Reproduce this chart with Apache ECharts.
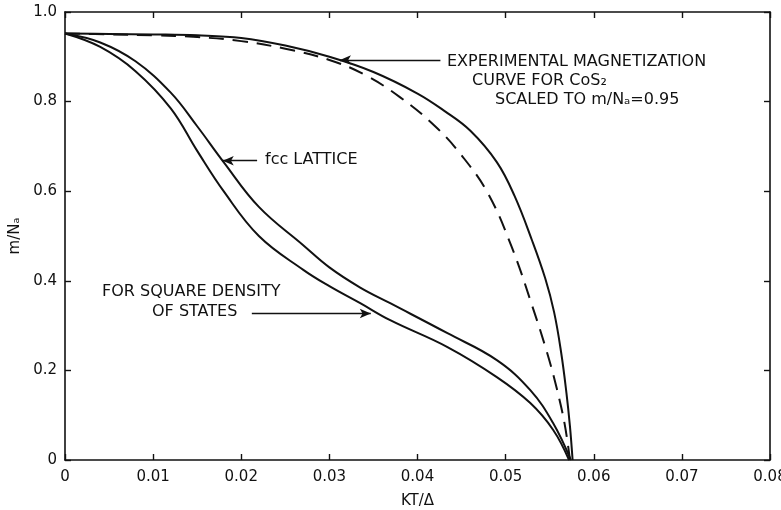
<!DOCTYPE html>
<html>
<head>
<meta charset="utf-8">
<script src="https://cdn.jsdelivr.net/npm/echarts@6/dist/echarts.min.js"></script>
<style>
  html, body { margin: 0; padding: 0; background: #fff; }
  #chart { width: 781px; height: 510px; }
</style>
</head>
<body>
<div id="chart"></div>
<script>
// values: [KT/Δ, m/Na]
const experimental = [
  [0, 0.952], [0.005, 0.951], [0.01, 0.95], [0.015, 0.948], [0.02, 0.942],
  [0.025, 0.925], [0.03, 0.9], [0.035, 0.866], [0.04, 0.818], [0.043, 0.78],
  [0.046, 0.735], [0.049, 0.665], [0.051, 0.59], [0.053, 0.49], [0.0545, 0.405],
  [0.0555, 0.33], [0.0563, 0.24], [0.0569, 0.15], [0.0573, 0.075], [0.0576, 0]
];
const scaledTheory = [
  [0, 0.952], [0.005, 0.95], [0.01, 0.948], [0.015, 0.944], [0.02, 0.935],
  [0.025, 0.918], [0.03, 0.893], [0.034, 0.86], [0.038, 0.81], [0.042, 0.745],
  [0.045, 0.68], [0.048, 0.595], [0.0507, 0.475], [0.053, 0.345], [0.0547, 0.24],
  [0.0558, 0.16], [0.0567, 0.08], [0.0573, 0]
];
const fccLattice = [
  [0, 0.952], [0.004, 0.932], [0.008, 0.89], [0.012, 0.82], [0.015, 0.745],
  [0.018, 0.665], [0.022, 0.565], [0.027, 0.48], [0.03, 0.43], [0.0335, 0.385],
  [0.0369, 0.35], [0.0434, 0.283], [0.049, 0.223], [0.0528, 0.156], [0.0554, 0.082],
  [0.0574, 0]
];
const squareDos = [
  [0, 0.952], [0.004, 0.922], [0.008, 0.868], [0.012, 0.785], [0.015, 0.69],
  [0.018, 0.6], [0.022, 0.5], [0.027, 0.425], [0.03, 0.388], [0.0335, 0.35],
  [0.0369, 0.312], [0.0434, 0.252], [0.049, 0.185], [0.0528, 0.127], [0.0554, 0.067],
  [0.0572, 0]
];
// annotation arrows: [from, to] in data units
const expArrow = [[0.0426, 0.893], [0.0312, 0.893]];
const fccArrow = [[0.0218, 0.668], [0.0179, 0.668]];
const dosArrow = [[0.0212, 0.327], [0.0347, 0.327]];

const font = "DejaVu Sans";
const ink = "#111";

function arrow(pts) {
  return {
    silent: true,
    symbol: ["none", "arrow"],
    symbolSize: [7, 11],
    label: { show: false },
    lineStyle: { color: ink, width: 1.3, type: "solid" },
    data: [[{ coord: pts[0] }, { coord: pts[1] }]],
  };
}

function curve(name, data, dashed, marks) {
  return {
    name: name,
    type: "line",
    data: data,
    smooth: 0.4,
    showSymbol: false,
    silent: true,
    lineStyle: { color: ink, width: 2, type: dashed ? [15, 9] : "solid" },
    markLine: marks,
  };
}

const chart = echarts.init(document.getElementById("chart"));

const axisCommon = {
  type: "value",
  axisLine: { show: true, onZero: false, lineStyle: { color: ink, width: 1.6 } },
  axisTick: { show: true, inside: true, length: 6, lineStyle: { color: ink, width: 1.4 } },
  splitLine: { show: false },
};

chart.setOption({
  animation: false,
  backgroundColor: "#fff",
  grid: { left: 65, right: 11, top: 12, bottom: 50, containLabel: false, outerBoundsMode: "none" },
  xAxis: [
    Object.assign({}, axisCommon, {
      min: 0, max: 0.08, interval: 0.01,
      name: "KT/Δ",
      nameLocation: "middle",
      nameGap: 34,
      nameTextStyle: { color: ink, fontFamily: font, fontSize: 15 },
      axisLabel: {
        color: ink, fontFamily: font, fontSize: 15, margin: 10,
        formatter: (v) => (v === 0 ? "0" : v.toFixed(2)),
      },
    }),
    Object.assign({}, axisCommon, {
      position: "top",
      min: 0, max: 0.08, interval: 0.01,
      axisLabel: { show: false },
    }),
  ],
  yAxis: [
    Object.assign({}, axisCommon, {
      min: 0, max: 1, interval: 0.2,
      name: "m/Nₐ",
      nameLocation: "middle",
      nameRotate: 90,
      nameGap: 42,
      nameTextStyle: { color: ink, fontFamily: font, fontSize: 15 },
      axisLabel: {
        color: ink, fontFamily: font, fontSize: 15, margin: 8,
        formatter: (v) => (v === 0 ? "0" : v.toFixed(1)),
      },
    }),
    Object.assign({}, axisCommon, {
      position: "right",
      min: 0, max: 1, interval: 0.2,
      axisLabel: { show: false },
    }),
  ],
  series: [
    curve("experimental", experimental, false, arrow(expArrow)),
    curve("scaled", scaledTheory, true),
    curve("fcc", fccLattice, false, arrow(fccArrow)),
    curve("square", squareDos, false, arrow(dosArrow)),
  ],
  graphic: [
    { type: "text", x: 447, y: 62, style: { text: "EXPERIMENTAL MAGNETIZATION", font: "16px " + font, fill: ink, verticalAlign: "middle" } },
    { type: "text", x: 472, y: 81, style: { text: "CURVE FOR CoS₂", font: "16px " + font, fill: ink, verticalAlign: "middle" } },
    { type: "text", x: 495, y: 100, style: { text: "SCALED TO m/Nₐ=0.95", font: "16px " + font, fill: ink, verticalAlign: "middle" } },
    { type: "text", x: 265, y: 160, style: { text: "fcc LATTICE", font: "16px " + font, fill: ink, verticalAlign: "middle" } },
    { type: "text", x: 102, y: 292, style: { text: "FOR SQUARE DENSITY", font: "16px " + font, fill: ink, verticalAlign: "middle" } },
    { type: "text", x: 152, y: 312, style: { text: "OF STATES", font: "16px " + font, fill: ink, verticalAlign: "middle" } },
  ],
});
</script>
</body>
</html>
